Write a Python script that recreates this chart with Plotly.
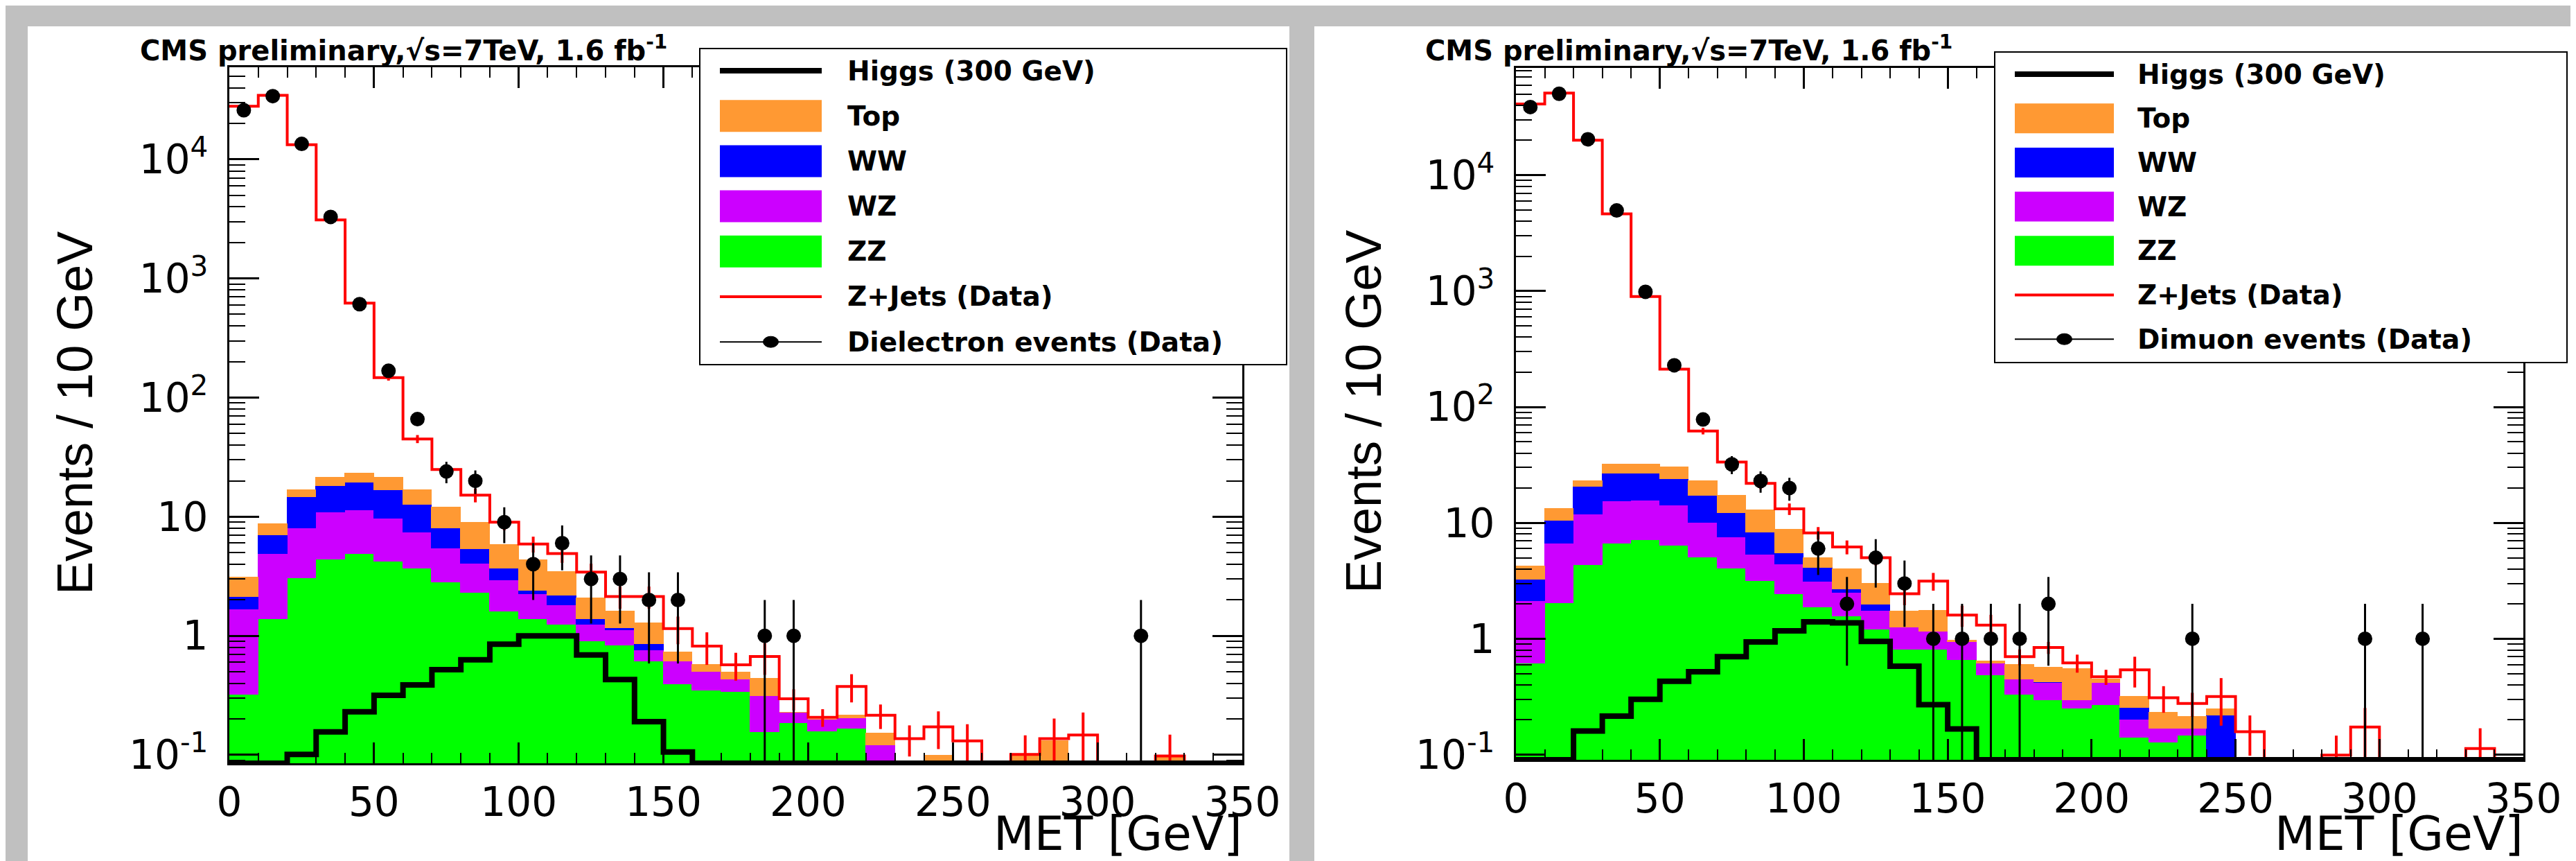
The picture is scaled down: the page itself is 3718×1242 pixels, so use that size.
import math
import plotly.graph_objects as go

W, H = 3718, 1242

# ---------------- data ----------------
bin_edges = list(range(0, 351, 10))
bin_centers = [e + 5 for e in bin_edges[:-1]]

x_tickvals = [0, 50, 100, 150, 200, 250, 300, 350]
y_tickvals = [0.1, 1, 10, 100, 1000, 10000]
y_ticktext = ["10<sup>-1</sup>", "1", "10", "10<sup>2</sup>", "10<sup>3</sup>", "10<sup>4</sup>"]

# Dielectron channel (left)
ee_zz = [0.32, 1.38, 3.06, 4.37, 4.9, 4.2, 3.7, 2.83, 2.31, 1.60,
         1.38, 1.24, 0.905, 0.83, 0.61, 0.39, 0.35, 0.34, 0.156, 0.185,
         0.158, 0.166, 0, 0, 0, 0, 0, 0, 0, 0,
         0, 0, 0, 0, 0]
ee_wz = [1.34, 3.52, 4.9, 6.53, 6.4, 5.4, 3.7, 2.57, 1.74, 1.32,
         0.85, 0.57, 0.335, 0.28, 0.15, 0.22, 0.15, 0.09, 0.158, 0.042,
         0.04, 0.037, 0.121, 0, 0, 0, 0, 0, 0, 0,
         0, 0, 0, 0, 0]
ee_ww = [0.45, 2.1, 6.64, 7.3, 8.2, 7.2, 5.3, 2.6, 1.3, 0.74,
         0.16, 0.38, 0.14, 0.05, 0.09, 0, 0, 0, 0, 0,
         0, 0, 0, 0, 0, 0, 0, 0, 0, 0,
         0, 0, 0, 0, 0]
ee_top = [0.98, 1.7, 2.2, 3.1, 3.6, 4.5, 4.0, 3.9, 3.6, 2.18,
          1.94, 1.27, 0.69, 0.44, 0.43, 0.12, 0.07, 0.06, 0.122, 0,
          0, 0.012, 0.03, 0, 0.099, 0, 0, 0.097, 0.131, 0,
          0, 0, 0.095, 0, 0]
ee_higgs = [0, 0, 0.101, 0.156, 0.23, 0.317, 0.387, 0.52, 0.63, 0.85,
            1.0, 1.0, 0.69, 0.43, 0.19, 0.106, 0, 0, 0, 0,
            0, 0, 0, 0, 0, 0, 0, 0, 0, 0,
            0, 0, 0, 0, 0]
ee_zjets = [28000, 34500, 13300, 3100, 621, 147, 45, 24.9, 15.2, 9.0,
            5.9, 4.9, 3.43, 2.14, 2.14, 1.15, 0.82, 0.57, 0.67, 0.296,
            0.207, 0.376, 0.215, 0.137, 0.172, 0.131, 0, 0.101, 0.137, 0.147,
            0, 0, 0.098, 0, 0]
ee_zjets_err = [300, 350, 200, 80, 25, 8, 3.5, 2.5, 2.0, 1.3,
                0.9, 0.8, 0.6, 0.45, 0.45, 0.3, 0.25, 0.15, 0.2, 0.06,
                0.035, 0.1, 0.05, 0.04, 0.06, 0.05, 0, 0.045, 0.065, 0.08,
                0, 0, 0.05, 0, 0]
ee_data = [25900, 34000, 13500, 3290, 609, 168, 66, 24, 20, 9,
           4, 6, 3, 3, 2, 2, 0, 0, 1, 1,
           0, 0, 0, 0, 0, 0, 0, 0, 0, 0,
           0, 1, 0, 0, 0]

# Dimuon channel (right)
mm_zz = [0.62, 2.04, 4.35, 6.64, 7.2, 6.43, 5.1, 4.05, 3.18, 2.45,
         1.88, 1.58, 1.21, 0.81, 0.81, 0.66, 0.49, 0.33, 0.297, 0.252,
         0.27, 0.142, 0.128, 0.147, 0, 0, 0, 0, 0, 0,
         0, 0, 0, 0, 0]
mm_wz = [1.52, 4.6, 7.55, 8.86, 8.6, 7.87, 5.0, 3.5, 2.17, 2.0,
         1.27, 0.93, 0.54, 0.45, 0.36, 0.28, 0.13, 0.12, 0.123, 0.045,
         0.15, 0.061, 0.041, 0.022, 0, 0, 0, 0, 0, 0,
         0, 0, 0, 0, 0]
mm_ww = [1.12, 3.96, 8.8, 11.5, 11.2, 9.8, 7.1, 4.75, 3.03, 1.07,
         1.0, 0.18, 0.24, 0, 0, 0, 0, 0, 0.005, 0,
         0, 0.053, 0, 0, 0.22, 0, 0, 0, 0, 0,
         0, 0, 0, 0, 0]
mm_top = [0.99, 2.8, 2.5, 5.1, 5.1, 6.2, 6.0, 5.1, 4.5, 3.33,
          0.84, 1.35, 1.02, 0.48, 0.59, 0.03, 0.02, 0.15, 0.14, 0.253,
          0.03, 0.064, 0.063, 0.046, 0.027, 0, 0, 0, 0, 0,
          0, 0, 0, 0, 0]
mm_higgs = [0, 0, 0.16, 0.215, 0.30, 0.43, 0.52, 0.70, 0.94, 1.17,
            1.40, 1.37, 0.95, 0.58, 0.27, 0.167, 0, 0, 0, 0,
            0, 0, 0, 0, 0, 0, 0, 0, 0, 0,
            0, 0, 0, 0, 0]
mm_zjets = [41100, 51000, 20000, 4640, 898, 212, 62, 33.5, 21.9, 13.2,
            8.2, 6.2, 5.0, 2.45, 3.15, 1.6, 1.31, 0.70, 0.84, 0.62,
            0.47, 0.54, 0.31, 0.277, 0.318, 0.158, 0, 0, 0.099, 0.173,
            0, 0, 0, 0.113, 0]
mm_zjets_err = [400, 450, 280, 100, 30, 10, 4, 3, 2.3, 1.5,
                1.0, 0.85, 0.7, 0.5, 0.55, 0.33, 0.3, 0.11, 0.1, 0.11,
                0.07, 0.16, 0.08, 0.065, 0.14, 0.06, 0, 0, 0.047, 0.08,
                0, 0, 0, 0.056, 0]
mm_data = [38700, 50400, 20400, 4960, 985, 229, 78, 32, 23, 20,
           6, 2, 5, 3, 1, 1, 1, 1, 2, 0,
           0, 0, 0, 1, 0, 0, 0, 0, 0, 1,
           0, 1, 0, 0, 0]

stack_names = ["ZZ", "WZ", "WW", "Top"]
stack_colors = ["#00FF00", "#CC00FF", "#0000FF", "#FF9933"]
legend_labels_common = ["Higgs (300 GeV)", "Top", "WW", "WZ", "ZZ", "Z+Jets (Data)"]
data_label = {"ee": "Dielectron events (Data)", "mm": "Dimuon events (Data)"}

# ---------------- styling / geometry ----------------
GRAY = "#C0C0C0"
TICK_FONT = dict(family="DejaVu Sans, Verdana, sans-serif", size=58, color="black")


def px(x):
    return x / W


def py(y):
    return 1 - y / H


panels = [
    dict(key="ee", xa="x", ya="y",
         stacks=[ee_zz, ee_wz, ee_ww, ee_top], higgs=ee_higgs, zjets=ee_zjets,
         zerr=ee_zjets_err, data=ee_data,
         plot=(323, 1785, 89, 1093), yr=(-1.070, 4.774),
         panel=(32, 1853), title_x=192, ytitle_x=100, ytitle_y=588,
         legend=dict(box=(1002, 62, 1849, 518), sx=(1031, 1178), tx=1213, y0=94, dy=65.2, sh=46)),
    dict(key="mm", xa="x2", ya="y2",
         stacks=[mm_zz, mm_wz, mm_ww, mm_top], higgs=mm_higgs, zjets=mm_zjets,
         zerr=mm_zjets_err, data=mm_data,
         plot=(2180, 3634, 89.5, 1088), yr=(-1.044, 4.928),
         panel=(1889, 3718), title_x=2047, ytitle_x=1960, ytitle_y=586,
         legend=dict(box=(2871, 67, 3697, 515), sx=(2900, 3043), tx=3075, y0=99, dy=63.7, sh=43)),
]

fig = go.Figure()
shapes = []
annotations = []

minor_y = [k * 10.0 ** e for e in range(-2, 6) for k in range(2, 10)]

for p in panels:
    floor = 10 ** p["yr"][0]
    # stacked backgrounds
    for vals, name, col in zip(p["stacks"], stack_names, stack_colors):
        fig.add_trace(go.Bar(x=bin_centers, y=vals, width=10, name=name,
                             marker=dict(color=col, line=dict(color=col, width=1)),
                             xaxis=p["xa"], yaxis=p["ya"], showlegend=False))
    # Z+jets step histogram
    zj = [v if v > 0 else floor for v in p["zjets"]]
    fig.add_trace(go.Scatter(x=bin_edges, y=zj + [zj[-1]], mode="lines", line_shape="hv",
                             line=dict(color="#FF0000", width=4), name="Z+Jets (Data)",
                             xaxis=p["xa"], yaxis=p["ya"], showlegend=False))
    ex = [c for c, v, e in zip(bin_centers, p["zjets"], p["zerr"]) if v > 0 and e > 0]
    ey = [v for v, e in zip(p["zjets"], p["zerr"]) if v > 0 and e > 0]
    eerr = [e for v, e in zip(p["zjets"], p["zerr"]) if v > 0 and e > 0]
    fig.add_trace(go.Scatter(x=ex, y=ey, mode="markers", marker=dict(size=1, color="#FF0000"),
                             error_y=dict(type="data", array=eerr, visible=True, color="#FF0000",
                                          thickness=4, width=0),
                             xaxis=p["xa"], yaxis=p["ya"], showlegend=False, hoverinfo="skip"))
    # Higgs
    hg = [v if v > 0 else floor for v in p["higgs"]]
    fig.add_trace(go.Scatter(x=bin_edges, y=hg + [hg[-1]], mode="lines", line_shape="hv",
                             line=dict(color="black", width=8), name="Higgs (300 GeV)",
                             xaxis=p["xa"], yaxis=p["ya"], showlegend=False))
    # data
    dx = [c for c, n in zip(bin_centers, p["data"]) if n > 0]
    dy = [n for n in p["data"] if n > 0]
    de = [math.sqrt(n) for n in dy]
    fig.add_trace(go.Scatter(x=dx, y=dy, mode="markers", name=data_label[p["key"]],
                             marker=dict(color="black", size=21),
                             error_y=dict(type="data", array=de, visible=True, color="black",
                                          thickness=3, width=0),
                             xaxis=p["xa"], yaxis=p["ya"], showlegend=False))

    x0, x1, yt, yb = p["plot"]
    xdom = [px(x0), px(x1)]
    ydom = [py(yb), py(yt)]
    xkey = "xaxis" if p["xa"] == "x" else "xaxis2"
    ykey = "yaxis" if p["ya"] == "y" else "yaxis2"
    fig.layout[xkey] = dict(domain=xdom, anchor=p["ya"], range=[0, 350], automargin=False,
                            tickmode="array", tickvals=x_tickvals,
                            ticks="inside", ticklen=30, tickwidth=3, tickcolor="black",
                            minor=dict(dtick=10, tick0=0, ticks="inside", ticklen=15,
                                       tickwidth=2, tickcolor="black"),
                            showline=True, linewidth=3, linecolor="black", mirror="ticks",
                            showgrid=False, zeroline=False, tickfont=TICK_FONT,
                            ticklabelstandoff=3)
    fig.layout[ykey] = dict(domain=ydom, anchor=p["xa"], type="log", range=list(p["yr"]),
                            automargin=False,
                            tickmode="array", tickvals=y_tickvals, ticktext=y_ticktext,
                            ticks="inside", ticklen=43, tickwidth=3, tickcolor="black",
                            minor=dict(tickmode="array", tickvals=minor_y, ticks="inside",
                                       ticklen=23, tickwidth=2, tickcolor="black"),
                            showline=True, linewidth=3, linecolor="black", mirror="ticks",
                            showgrid=False, zeroline=False, tickfont=TICK_FONT,
                            ticklabelstandoff=16)

    # white panel
    px0, px1 = p["panel"]
    shapes.append(dict(type="rect", xref="paper", yref="paper", layer="below",
                       x0=px(px0), x1=px(px1), y0=0, y1=py(30),
                       fillcolor="white", line=dict(width=0)))

    # header text
    annotations.append(dict(xref="paper", yref="paper", x=px(p["title_x"]), y=py(62),
                            xanchor="left", yanchor="middle", showarrow=False,
                            text="<b>CMS preliminary,\u221As=7TeV, 1.6 fb<sup>-1</sup></b>",
                            font=dict(family="DejaVu Sans", size=40, color="black")))
    # axis titles
    annotations.append(dict(xref="paper", yref="paper", x=px(p["ytitle_x"]), y=py(p["ytitle_y"]),
                            xanchor="center", yanchor="middle", showarrow=False, textangle=-90,
                            text="Events / 10 GeV",
                            font=dict(family="Liberation Sans Narrow, Arial Narrow, Liberation Sans, Arial",
                                      size=72, color="black")))
    annotations.append(dict(xref="paper", yref="paper", x=px(x1 + 2), y=py(1194),
                            xanchor="right", yanchor="middle", showarrow=False,
                            text="MET [GeV]",
                            font=dict(family="DejaVu Sans", size=68, color="black")))

    # legend (drawn by hand, ROOT style)
    lg = p["legend"]
    bx0, by0, bx1, by1 = lg["box"]
    shapes.append(dict(type="rect", xref="paper", yref="paper", layer="above",
                       x0=px(bx0), x1=px(bx1), y0=py(by1), y1=py(by0),
                       fillcolor="white", line=dict(color="black", width=2)))
    labels = legend_labels_common + [data_label[p["key"]]]
    sx0, sx1 = lg["sx"]
    sxm = (sx0 + sx1) / 2
    fill_colors = dict(zip(stack_names, stack_colors))
    for i, lab in enumerate(labels):
        yc = lg["y0"] + i * lg["dy"]
        if lab.startswith("Higgs"):
            shapes.append(dict(type="line", xref="paper", yref="paper", layer="above",
                               x0=px(sx0), x1=px(sx1), y0=py(yc), y1=py(yc),
                               line=dict(color="black", width=8)))
        elif lab in fill_colors:
            shapes.append(dict(type="rect", xref="paper", yref="paper", layer="above",
                               x0=px(sx0), x1=px(sx1), y0=py(yc + lg["sh"] / 2), y1=py(yc - lg["sh"] / 2),
                               fillcolor=fill_colors[lab], line=dict(width=0)))
        elif lab.startswith("Z+Jets"):
            shapes.append(dict(type="line", xref="paper", yref="paper", layer="above",
                               x0=px(sx0), x1=px(sx1), y0=py(yc), y1=py(yc),
                               line=dict(color="#FF0000", width=4)))
        else:
            shapes.append(dict(type="line", xref="paper", yref="paper", layer="above",
                               x0=px(sx0), x1=px(sx1), y0=py(yc), y1=py(yc),
                               line=dict(color="black", width=2)))
            shapes.append(dict(type="circle", xref="paper", yref="paper", layer="above",
                               x0=px(sxm - 11), x1=px(sxm + 11), y0=py(yc + 8), y1=py(yc - 8),
                               fillcolor="black", line=dict(color="black", width=1)))
        annotations.append(dict(xref="paper", yref="paper", x=px(lg["tx"]), y=py(yc),
                                xanchor="left", yanchor="middle", showarrow=False,
                                text="<b>" + lab + "</b>",
                                font=dict(family="DejaVu Sans", size=39, color="black")))

fig.update_layout(
    width=W, height=H,
    margin=dict(l=0, r=0, t=0, b=0, pad=0, autoexpand=False),
    paper_bgcolor=GRAY, plot_bgcolor="white",
    barmode="stack", bargap=0,
    showlegend=False,
    font=dict(family="DejaVu Sans", color="black"),
    shapes=shapes, annotations=annotations,
)

fig.write_html("out.html")
